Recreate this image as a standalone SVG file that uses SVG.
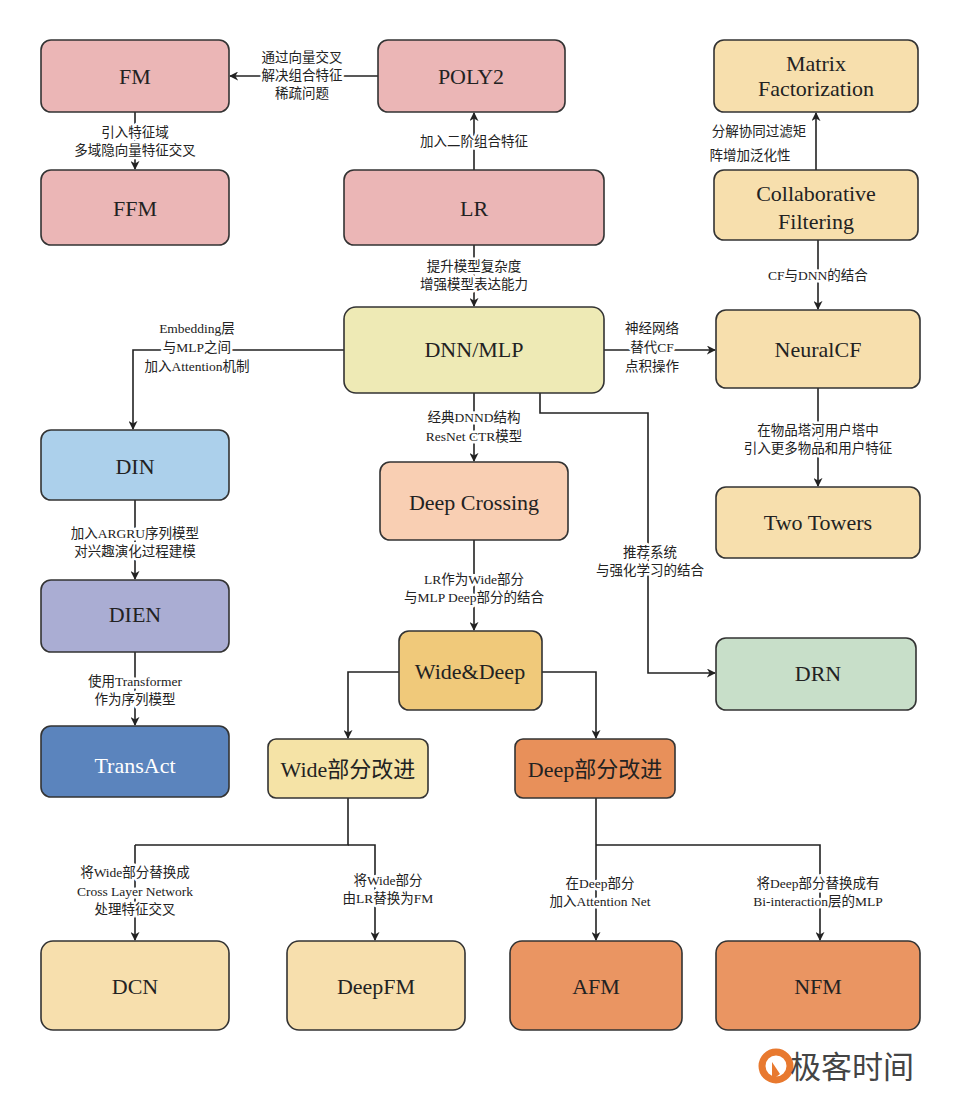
<svg xmlns="http://www.w3.org/2000/svg" width="966" height="1110" viewBox="0 0 966 1110">
<defs>
<marker id="a" viewBox="0 0 10 10" refX="9" refY="5" markerWidth="9" markerHeight="9" markerUnits="userSpaceOnUse" orient="auto"><path d="M0,0 L10,5 L0,10 L3,5 z" fill="#222"/></marker>
<style>
.n rect{stroke:#333;stroke-width:1.6}
.n text{font-family:"Liberation Serif","Noto Sans CJK SC",serif;font-size:22px;fill:#222;text-anchor:middle;dominant-baseline:central}
.c path{fill:none;stroke:#222;stroke-width:1.6}
.c path.m{marker-end:url(#a)}
.l{font-family:"Liberation Serif","Noto Sans CJK SC",serif;font-size:13.5px;fill:#222;text-anchor:middle;stroke:#fff;stroke-width:5;paint-order:stroke;stroke-linejoin:round}
</style>
</defs>
<rect width="966" height="1110" fill="#fff"/>
<g class="c">
<path class="m" d="M378,76H230"/>
<path class="m" d="M474,170V113"/>
<path class="m" d="M135,112V169"/>
<path class="m" d="M474,245V306"/>
<path class="m" d="M816,170V113"/>
<path class="m" d="M818,240V309"/>
<path class="m" d="M604,350H715"/>
<path class="m" d="M344,350H133V429"/>
<path class="m" d="M474,393V461"/>
<path class="m" d="M540,393V413H648V673H715"/>
<path class="m" d="M818,388V486"/>
<path class="m" d="M135,500V579"/>
<path class="m" d="M135,652V725"/>
<path class="m" d="M474,540V630"/>
<path class="m" d="M399,672H348V738"/>
<path class="m" d="M542,672H596V738"/>
<path d="M348,798V845H135"/><path class="m" d="M135,845V940"/>
<path class="m" d="M348,845H375V940"/>
<path class="m" d="M596,798V940"/>
<path class="m" d="M596,845H820V940"/>
</g>
<g>
<text class="l" x="302" y="62">通过向量交叉</text><text class="l" x="302" y="80">解决组合特征</text><text class="l" x="302" y="98">稀疏问题</text>
<text class="l" x="474" y="146">加入二阶组合特征</text>
<text class="l" x="135" y="137">引入特征域</text><text class="l" x="135" y="155">多域隐向量特征交叉</text>
<text class="l" x="474" y="271">提升模型复杂度</text><text class="l" x="474" y="289">增强模型表达能力</text>
<text class="l" x="759" y="136">分解协同过滤矩</text><text class="l" x="750" y="160">阵增加泛化性</text>
<text class="l" x="818" y="280">CF与DNN的结合</text>
<text class="l" x="652" y="333">神经网络</text><text class="l" x="652" y="352">替代CF</text><text class="l" x="652" y="371">点积操作</text>
<text class="l" x="197" y="333">Embedding层</text><text class="l" x="197" y="352">与MLP之间</text><text class="l" x="197" y="371">加入Attention机制</text>
<text class="l" x="474" y="422">经典DNND结构</text><text class="l" x="474" y="441">ResNet CTR模型</text>
<text class="l" x="650" y="557">推荐系统</text><text class="l" x="650" y="575">与强化学习的结合</text>
<text class="l" x="818" y="435">在物品塔河用户塔中</text><text class="l" x="818" y="453">引入更多物品和用户特征</text>
<text class="l" x="135" y="538">加入ARGRU序列模型</text><text class="l" x="135" y="556">对兴趣演化过程建模</text>
<text class="l" x="135" y="686">使用Transformer</text><text class="l" x="135" y="704">作为序列模型</text>
<text class="l" x="474" y="584">LR作为Wide部分</text><text class="l" x="474" y="602">与MLP Deep部分的结合</text>
<text class="l" x="135" y="877">将Wide部分替换成</text><text class="l" x="135" y="896">Cross Layer Network</text><text class="l" x="135" y="914">处理特征交叉</text>
<text class="l" x="388" y="885">将Wide部分</text><text class="l" x="388" y="903">由LR替换为FM</text>
<text class="l" x="600" y="888">在Deep部分</text><text class="l" x="600" y="906">加入Attention Net</text>
<text class="l" x="818" y="888">将Deep部分替换成有</text><text class="l" x="818" y="906">Bi-interaction层的MLP</text>
</g>
<g id="fm" class="n"><rect x="41" y="40" width="188" height="72" rx="10" fill="#ebb6b6"/><text x="135" y="76">FM</text></g>
<g id="poly2" class="n"><rect x="378" y="40" width="187" height="72" rx="10" fill="#ebb6b6"/><text x="471" y="76">POLY2</text></g>
<g id="ffm" class="n"><rect x="41" y="170" width="188" height="75" rx="10" fill="#ebb6b6"/><text x="135" y="208">FFM</text></g>
<g id="lr" class="n"><rect x="344" y="170" width="260" height="75" rx="10" fill="#ebb6b6"/><text x="474" y="208">LR</text></g>
<g id="mf" class="n"><rect x="714" y="40" width="204" height="72" rx="10" fill="#f7dfad"/><text x="816" y="63">Matrix</text><text x="816" y="88">Factorization</text></g>
<g id="cf" class="n"><rect x="714" y="170" width="204" height="70" rx="10" fill="#f7dfad"/><text x="816" y="193">Collaborative</text><text x="816" y="221">Filtering</text></g>
<g id="dnn" class="n"><rect x="344" y="307" width="260" height="86" rx="12" fill="#eeeab5"/><text x="474" y="349">DNN/MLP</text></g>
<g id="ncf" class="n"><rect x="716" y="310" width="204" height="78" rx="10" fill="#f7dfad"/><text x="818" y="349">NeuralCF</text></g>
<g id="din" class="n"><rect x="41" y="430" width="188" height="70" rx="10" fill="#acd0eb"/><text x="135" y="466">DIN</text></g>
<g id="dc" class="n"><rect x="380" y="462" width="188" height="78" rx="10" fill="#f9cfb3"/><text x="474" y="502">Deep Crossing</text></g>
<g id="tt" class="n"><rect x="716" y="487" width="204" height="71" rx="10" fill="#f7dfad"/><text x="818" y="522">Two Towers</text></g>
<g id="dien" class="n"><rect x="41" y="580" width="188" height="72" rx="10" fill="#aaadd3"/><text x="135" y="614">DIEN</text></g>
<g id="wd" class="n"><rect x="399" y="631" width="143" height="79" rx="10" fill="#f0c97a"/><text x="470" y="671">Wide&amp;Deep</text></g>
<g id="drn" class="n"><rect x="716" y="638" width="200" height="72" rx="10" fill="#c8dfc9"/><text x="818" y="673">DRN</text></g>
<g id="ta" class="n"><rect x="41" y="726" width="188" height="71" rx="10" fill="#5b84bd"/><text x="135" y="765" style="fill:#fff">TransAct</text></g>
<g id="wi" class="n"><rect x="268" y="739" width="160" height="59" rx="8" fill="#f5e3a6"/><text x="348" y="769">Wide部分改进</text></g>
<g id="di" class="n"><rect x="515" y="739" width="160" height="59" rx="8" fill="#e8905a"/><text x="595" y="769">Deep部分改进</text></g>
<g id="dcn" class="n"><rect x="41" y="941" width="188" height="89" rx="12" fill="#f7dfad"/><text x="135" y="986">DCN</text></g>
<g id="dfm" class="n"><rect x="287" y="941" width="178" height="89" rx="12" fill="#f7dfad"/><text x="376" y="986">DeepFM</text></g>
<g id="afm" class="n"><rect x="510" y="941" width="172" height="89" rx="12" fill="#ea9562"/><text x="596" y="986">AFM</text></g>
<g id="nfm" class="n"><rect x="716" y="941" width="204" height="89" rx="12" fill="#ea9562"/><text x="818" y="986">NFM</text></g>
<g id="logo">
<circle cx="776" cy="1066" r="14" fill="none" stroke="#e8792f" stroke-width="7"/>
<path d="M772,1062 L780,1074 L772,1080 z" fill="#e8792f"/>
<text x="852" y="1078" style="font-family:'Noto Sans CJK SC',sans-serif;font-size:31px;fill:#444;text-anchor:middle">极客时间</text>
</g>
</svg>
